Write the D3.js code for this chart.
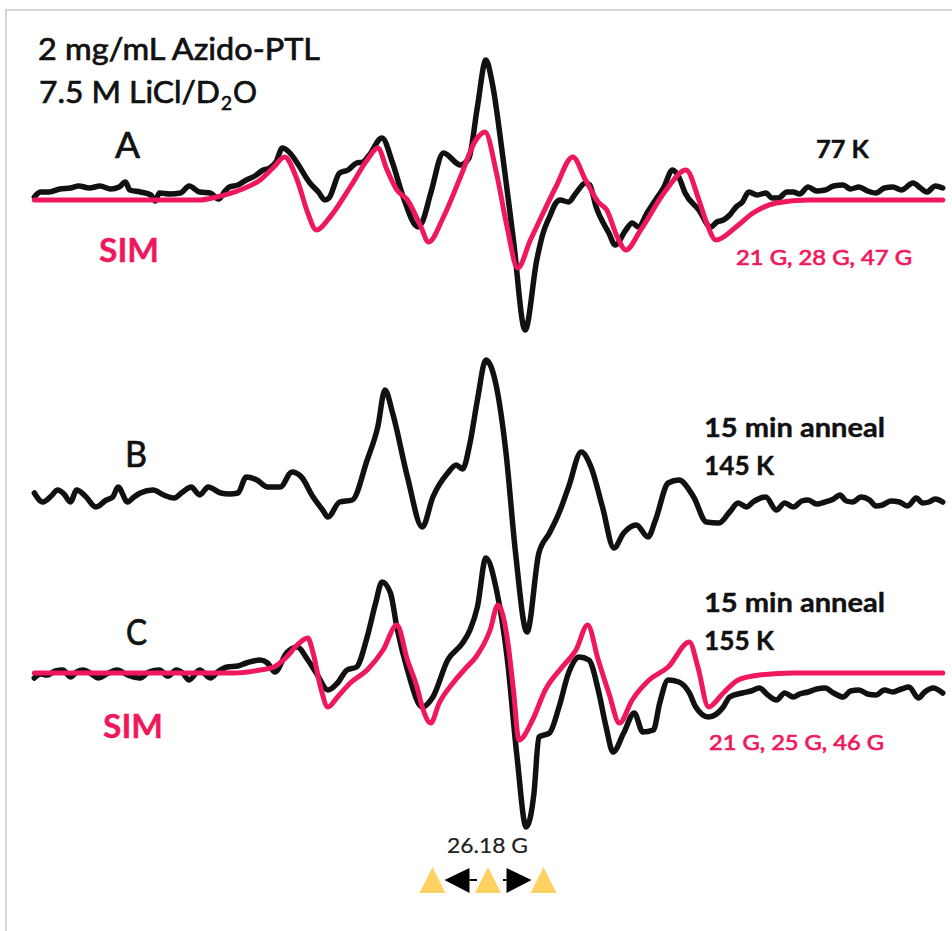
<!DOCTYPE html>
<html>
<head>
<meta charset="utf-8">
<script src="https://cdn.jsdelivr.net/npm/d3@7"></script>
<style>
  html, body { margin: 0; padding: 0; background: #fff; }
  svg { display: block; font-family: Lato, "Noto Sans", sans-serif; }
</style>
</head>
<body>
<svg id="chart" width="952" height="931"></svg>
<script>
// field offset (G) , intensity (a.u.)
const expA = [
  [-214, 3], [-211, 8], [-207, 8], [-202, 11], [-197, 12], [-193, 14], [-188, 12], [-183, 14],
  [-178, 11], [-174, 13], [-171, 18], [-169, 10], [-164, 8], [-159, 5], [-157, -1], [-155, 7],
  [-150, 6], [-145, 7], [-141, 14], [-136, 8], [-131, 7], [-127, 1], [-124, 9], [-122, 13],
  [-118, 15], [-114, 20], [-110, 24], [-106, 30], [-103, 32], [-100, 38], [-97, 52], [-93, 46],
  [-90, 37], [-84, 17], [-80, 8], [-77, 0], [-75, 2], [-70, 27], [-66, 30], [-62, 37], [-59, 38],
  [-56, 45], [-50, 62], [-45, 37], [-40, 3], [-33, -27], [-31, -22], [-27, 7], [-21, 47],
  [-13, 35], [-9, 42], [-5, 93], [-1, 140], [2, 117], [7, 43], [12, -40], [17.5, -130],
  [23, -60], [26, -33], [29, -17], [32, -3], [34, 0], [38, -2], [41.5, 7], [46, 17], [48, 15],
  [51, -7], [57, -33], [60, -45], [65, -30], [68, -23], [71, -27], [75, -13], [79, 0], [83, 13],
  [87, 30], [90, 23], [93, 7], [99.5, -10], [105, -27], [108, -22], [111, -20], [114, -15],
  [117, -7], [120, -2], [123, 8], [127, 5], [131, 7], [134, 2], [137, 2], [141, 8], [144, 8],
  [147, 6], [151, 13], [155, 9], [159, 10], [163, 14], [167.5, 15], [171, 11], [175, 13],
  [179, 9], [183, 7], [187, 12], [191, 13], [195, 10], [200.5, 17], [204, 12], [207, 8],
  [211, 14], [214.5, 12]
];

const simA = [
  [-214, 0], [-136, 0], [-128, 3], [-117, 10], [-107.5, 20], [-101, 33], [-96, 43], [-90, 20],
  [-85, -13], [-81, -30], [-74.5, -17], [-65, 13], [-57, 40], [-52, 52], [-47.6, 30], [-43, 10],
  [-38, 0], [-32, -25], [-28, -42], [-21, -17], [-13, 23], [-5.7, 60], [-1.4, 68], [4, 27],
  [9, -27], [14, -68], [20, -40], [26, -13], [32, 13], [40, 43], [46, 20], [52, -2], [56, -10],
  [61, -37], [65, -50], [72, -30], [84, 10], [93.4, 30], [99.5, 0], [103, -22], [107.5, -40],
  [117, -27], [125, -13], [136, -3], [151, 0], [214.5, 0]
];

const expB = [
  [-214, 7], [-210, -2], [-206, 4], [-203, 10], [-200, 6], [-197, -2], [-194, 10], [-190, 4],
  [-185, -7], [-180, 0], [-177, 3], [-174.5, 13], [-170, -2], [-167, 3], [-164, 7], [-158, 10],
  [-153, 5], [-148, 2], [-144, 8], [-140, 13], [-136, 5], [-132, 13], [-126, 7], [-122, 6],
  [-118, 7], [-114, 23], [-109, 20], [-104, 13], [-98, 13], [-92.5, 28], [-88, 23], [-82.5, 3],
  [-78, -10], [-75.5, -17], [-70, -2], [-64, 0], [-57, 40], [-52, 73], [-48.6, 110], [-45, 87],
  [-38, 23], [-31, -27], [-26, 3], [-19, 27], [-15, 35], [-12, 31], [-8.5, 57], [-5, 100],
  [-1, 140], [4, 113], [8.5, 47], [13, -53], [18.4, -132], [24, -53], [29, -33], [33.5, -13],
  [38, 13], [44, 48], [48.6, 33], [54, -7], [59.4, -48], [64, -33], [70, -25], [75.5, -37],
  [79, -20], [85, 17], [90, 20], [97, 3], [103, -22], [109, -23], [114, -12], [118, -3],
  [122, -7], [125, -2], [131, 3], [136, -10], [140, -3], [144, -7], [148, -1], [151, 0],
  [155, -4], [159, -2], [163, 1], [166, 5], [169, -1], [172, -2], [176, 3], [180, 0],
  [183, -6], [186, -5], [190, -1], [194, -2], [198, -6], [202, 2], [205, -3], [208, -2],
  [211, 1], [214.5, -2]
];

const expC = [
  [-214, -5], [-211, -1], [-208, -2], [-204, 2], [-200.5, 3], [-197, -4], [-194, 1], [-191, 3],
  [-187, -1], [-184, -5], [-179, 0], [-175, 3], [-170, -2], [-164, -5], [-160, 1], [-155, 3],
  [-151, -3], [-147, 3], [-144, 0], [-141, -7], [-136, 3], [-131, -5], [-127, 2], [-123, 6],
  [-118, 7], [-114, 10], [-107.5, 13], [-104, 10], [-100.5, 1], [-95, 20], [-90, 26], [-85, 13],
  [-81, 0], [-75.5, -17], [-71, -10], [-66.5, 3], [-62, 6], [-57, 36], [-53, 70], [-50, 91],
  [-46, 80], [-43, 46], [-38, 3], [-31, -34], [-26, -24], [-19, 13], [-12, 30], [-8.5, 43],
  [-5, 66], [-1, 115], [4, 83], [9, 16], [13.7, -84], [18, -154], [21.7, -120], [24, -64],
  [29, -60], [33.5, -34], [38, 0], [43, 16], [47.6, 13], [52, -17], [55.7, -54], [59, -79],
  [64, -60], [69, -40], [73, -59], [78, -57], [81, -30], [85, -7], [90, -9], [95, -20],
  [98, -34], [104, -44], [111, -34], [114, -24], [120, -20], [124, -18], [128, -15], [132, -22],
  [136, -27], [140, -20], [144, -24], [147, -21], [151, -19], [155, -16], [159, -15], [163, -20],
  [167.5, -24], [171, -18], [175, -17], [179, -21], [183, -22], [187, -17], [191, -19],
  [195, -16], [198.6, -14], [203, -25], [206, -19], [210, -15], [214.5, -20]
];

const simC = [
  [-214, 0], [-120, 0], [-107.5, 3], [-101, 6], [-95, 16], [-90, 28], [-85, 35], [-82.5, 20],
  [-79, -14], [-75.5, -34], [-71, -24], [-65, -10], [-57, 3], [-49.5, 23], [-43, 48], [-38, 13],
  [-33.5, -14], [-31, -34], [-27, -50], [-23, -30], [-16.5, -10], [-10, 6], [-5.7, 16], [1, 43],
  [4.7, 68], [9.4, 30], [12, -17], [14.6, -67], [21, -47], [27, -17], [35, 6], [41.5, 23],
  [47, 48], [52, 13], [57, -20], [62, -50], [68, -27], [76, -7], [85, 6], [95, 31], [99, 6],
  [104, -34], [111, -20], [118, -7], [128, -2], [144, 0], [214.5, 0]
];

// hyperfine marker
const markerFields = [-26.18, 0, 26.18];
const markerLabel = "26.18 G";

const pink = "#f0185c";
const ink = "#111";

const svg = d3.select("#chart");

// light frame
svg.append("path")
  .attr("d", "M6,931 L6,10 L952,10")
  .attr("fill", "none")
  .attr("stroke", "#d6d6d6")
  .attr("stroke-width", 2);

// scales: ~2.12 px per gauss, 1 px per a.u.
const x = d3.scaleLinear().domain([-230, 230]).range([0.4, 975.6]);
const y = d3.scaleLinear().domain([-100, 100]).range([100, -100]);

const line = d3.line()
  .x(function(d) { return x(d[0]); })
  .y(function(d) { return y(d[1]); })
  .curve(d3.curveMonotoneX);

// one group per spectrum, translated to its baseline
const panels = [
  { id: "A", base: 200, exp: expA, sim: simA },
  { id: "B", base: 500, exp: expB, sim: null },
  { id: "C", base: 673, exp: expC, sim: simC }
];

panels.forEach(function(p) {
  const g = svg.append("g").attr("transform", "translate(0," + p.base + ")");
  g.append("path")
    .datum(p.exp)
    .attr("d", line)
    .attr("fill", "none")
    .attr("stroke", ink)
    .attr("stroke-width", 5.5)
    .attr("stroke-linejoin", "round")
    .attr("stroke-linecap", "round");
  if (p.sim) {
    g.append("path")
      .datum(p.sim)
      .attr("d", line)
      .attr("fill", "none")
      .attr("stroke", pink)
      .attr("stroke-width", 5)
      .attr("stroke-linejoin", "round")
      .attr("stroke-linecap", "round");
  }
});

// labels (thin outline to get the heavier look of the original font)
function label(txt, lx, ly, size, opts) {
  opts = opts || {};
  const col = opts.color || ink;
  const t = svg.append("text")
    .attr("x", lx)
    .attr("y", ly)
    .attr("font-size", size)
    .attr("font-weight", opts.bold ? 700 : 400)
    .attr("fill", col)
    .attr("stroke", col)
    .attr("stroke-width", opts.bold ? 0.4 : 0.7)
    .text(txt);
  if (opts.w) t.attr("textLength", opts.w).attr("lengthAdjust", "spacingAndGlyphs");
  return t;
}

label("2 mg/mL Azido-PTL", 38, 60, 30, { w: 282 });
label("7.5 M LiCl/D", 39, 103, 30, { w: 181 });
label("2", 221, 110, 19, { w: 11 });
label("O", 233, 103, 30, { w: 24 });

label("A", 115, 158, 36, { w: 25 });
label("SIM", 99, 262, 33, { bold: true, color: pink, w: 60 });
label("77 K", 816, 158, 25, { bold: true, w: 53 });
label("21 G, 28 G, 47 G", 736, 265, 21, { color: pink, w: 176 });

label("B", 125, 467, 36, { w: 22 });
label("15 min anneal", 704, 437, 26, { bold: true, w: 181 });
label("145 K", 704, 475, 26, { bold: true, w: 70 });

label("C", 126, 645, 36, { w: 21 });
label("SIM", 103, 738, 33, { bold: true, color: pink, w: 60 });
label("15 min anneal", 704, 612, 26, { bold: true, w: 181 });
label("155 K", 704, 650, 26, { bold: true, w: 70 });
label("21 G, 25 G, 46 G", 709, 750, 21, { color: pink, w: 175 });

// splitting marker under the centre line
label(markerLabel, 447, 853, 21, { color: "#222", w: 81 }).attr("stroke-width", 0.2);

const mk = svg.append("g").attr("transform", "translate(0,880)");
mk.selectAll("path.tri")
  .data(markerFields)
  .enter().append("path")
  .attr("class", "tri")
  .attr("d", function(d) {
    const cx = x(d);
    return "M" + (cx - 13) + ",13 L" + cx + ",-13 L" + (cx + 13) + ",13 Z";
  })
  .attr("fill", "#fdd262");

// arrows from the centre triangle out to the side ones
const aL = x(markerFields[0]) + 12, aR = x(markerFields[2]) - 12;
const cL = x(markerFields[1]) - 11, cR = x(markerFields[1]) + 15;
mk.append("path")
  .attr("d", "M" + aL + ",0 L" + (aL + 25) + ",-12 L" + (aL + 25) + ",13 Z")
  .attr("fill", "#000");
mk.append("line")
  .attr("x1", aL + 25).attr("x2", cL).attr("y1", 0).attr("y2", 0)
  .attr("stroke", "#000").attr("stroke-width", 2);
mk.append("path")
  .attr("d", "M" + aR + ",0 L" + (aR - 25) + ",-12 L" + (aR - 25) + ",13 Z")
  .attr("fill", "#000");
mk.append("line")
  .attr("x1", cR).attr("x2", aR - 25).attr("y1", 0).attr("y2", 0)
  .attr("stroke", "#000").attr("stroke-width", 2);
</script>
</body>
</html>
